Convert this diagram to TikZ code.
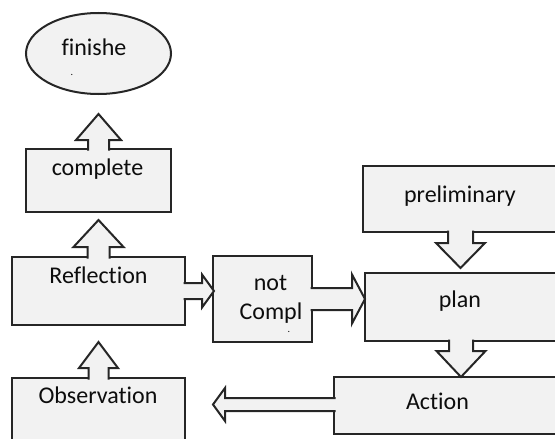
\documentclass[tikz,border=0pt]{standalone}
\usepackage{fontspec}
\setmainfont[Ligatures=NoCommon]{Carlito}
\usetikzlibrary{shapes.geometric,calc}
\definecolor{fillc}{HTML}{F2F2F2}
\definecolor{linec}{HTML}{262626}
\definecolor{textc}{HTML}{0D0D0D}
\tikzset{
  box/.style={draw=linec, fill=fillc, line width=2pt, rectangle, inner sep=0pt, outer sep=0pt, anchor=north west, line join=miter},
  oval/.style={draw=linec, fill=fillc, line width=2pt, ellipse, inner sep=0pt, outer sep=0pt},
  arr/.style={draw=linec, fill=fillc, line width=2pt, line join=miter},
  lbl/.style={text=textc, anchor=base, inner sep=0pt, font=\fontsize{24}{29}\selectfont},
  dotlbl/.style={text=textc, anchor=base, inner sep=0pt, font=\fontsize{10}{12}\selectfont}
}
% #1 base point, #2 direction angle, #3 shaft half width, #4 head half width, #5 head base distance, #6 tip distance
\newcommand\BArr[6]{%
  \begin{scope}[shift={(#1)},rotate=#2]
    \draw[arr] (-1.5pt,-#3pt) -- (#5pt,-#3pt) -- (#5pt,-#4pt) -- (#6pt,0pt) -- (#5pt,#4pt) -- (#5pt,#3pt) -- (-1.5pt,#3pt);
  \end{scope}}
\begin{document}
\begin{tikzpicture}[x=1pt,y=-1pt]
\useasboundingbox (0,0) rectangle (555,439);
% shapes
\node[oval, minimum width=145pt, minimum height=81pt] (finish) at (98.5,53.5) {};
\node[box, minimum width=145pt, minimum height=63pt] (complete) at (26,149) {};
\node[box, minimum width=173pt, minimum height=68pt] (reflection) at (12,257) {};
\node[box, minimum width=173pt, minimum height=82pt] (observation) at (12,378) {};
\node[box, minimum width=99pt, minimum height=86pt] (notc) at (213,256) {};
\node[box, minimum width=207pt, minimum height=66pt] (prelim) at (363,166) {};
\node[box, minimum width=205pt, minimum height=68pt] (plan) at (365,273) {};
\node[box, minimum width=236pt, minimum height=57pt] (action) at (334,377) {};
% block arrows (callout arrows)
\BArr{complete.north}{90}{10.5}{22.5}{9}{35}
\BArr{reflection.north}{90}{11}{25}{10}{37}
\BArr{observation.north}{90}{10}{19.5}{10}{36}
\BArr{reflection.east}{0}{8}{16.5}{17}{29}
\BArr{notc.east}{0}{11}{24.5}{40}{53}
\BArr{$(prelim.south west)+(97.5,0)$}{-90}{12.5}{24.5}{11}{36}
\BArr{$(plan.south west)+(96,0)$}{-90}{12}{24.5}{10}{36}
\BArr{$(action.west)+(0,-1)$}{180}{6.5}{16.5}{109}{121}
% texts
\node[lbl] (tfinish) at (94,55) {finishe};
\node[dotlbl] (tfinishdot) at (72,75) {.};
\node[lbl] (tcomplete) at (97.5,175) {complete};
\node[lbl] (treflection) at (98.5,283) {Reflection};
\node[lbl] (tnot) at (270.5,290) {not};
\node[lbl] (tcompl) at (271,319) {Compl};
\node[dotlbl] (tcompldot) at (289,332) {.};
\node[lbl] (tprelim) at (460,202) {preliminary};
\node[lbl] (tplan) at (460,307) {plan};
\node[lbl] (taction) at (437.5,409) {Action};
\node[lbl] (tobservation) at (98,403) {Observation};
\end{tikzpicture}
\end{document}
